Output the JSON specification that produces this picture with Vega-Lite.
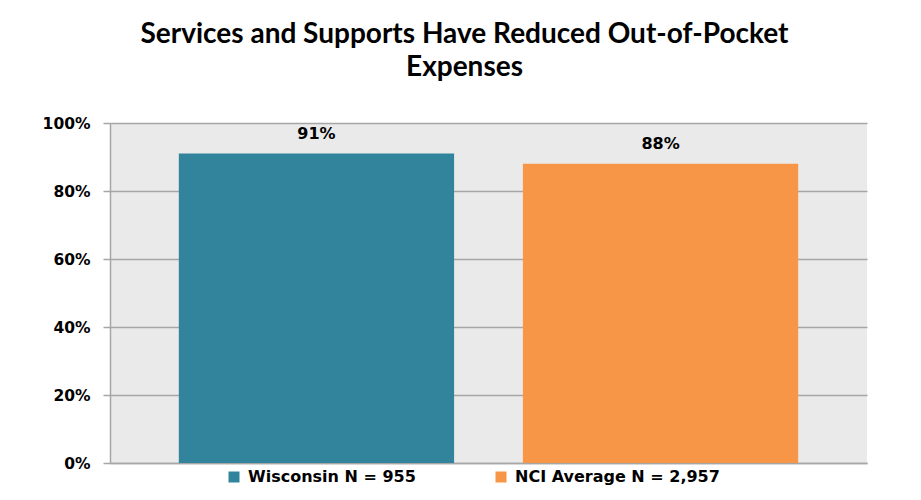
{
  "$schema": "https://vega.github.io/schema/vega-lite/v6.json",
  "width": 757,
  "height": 340,
  "autosize": {"type": "none"},
  "padding": {"left": 110, "top": 123, "right": 54, "bottom": 37},
  "background": "white",
  "title": {
    "text": ["Services and Supports Have Reduced Out-of-Pocket", "Expenses"],
    "font": "Lato",
    "fontSize": 28,
    "fontWeight": "bold",
    "color": "#000000",
    "anchor": "middle",
    "frame": "group",
    "dx": -24,
    "offset": 34,
    "lineHeight": 33
  },
  "data": {
    "values": [
      {"group": "Wisconsin N = 955", "pct": 0.91, "label": "91%"},
      {"group": "NCI Average N = 2,957", "pct": 0.88, "label": "88%"}
    ]
  },
  "encoding": {
    "x": {
      "field": "group",
      "type": "nominal",
      "sort": null,
      "scale": {"paddingInner": 0.2, "paddingOuter": 0.2},
      "axis": {"labels": false, "ticks": false, "title": null, "domain": true, "domainColor": "#A6A6A6", "domainWidth": 1.5}
    },
    "y": {
      "field": "pct",
      "type": "quantitative",
      "scale": {"domain": [0, 1], "nice": false},
      "axis": {
        "title": null,
        "values": [0, 0.2, 0.4, 0.6, 0.8, 1],
        "format": ".0%",
        "grid": true,
        "gridColor": "#A6A6A6",
        "gridWidth": 1.5,
        "domainColor": "#A6A6A6",
        "domainWidth": 1.5,
        "tickColor": "#A6A6A6",
        "tickWidth": 1.5,
        "tickSize": 7,
        "labelPadding": 13,
        "labelFont": "DejaVu Sans",
        "labelFontSize": 15.5,
        "labelFontWeight": "bold",
        "labelColor": "#000000"
      }
    }
  },
  "layer": [
    {
      "mark": {"type": "bar"},
      "encoding": {
        "color": {
          "field": "group",
          "type": "nominal",
          "sort": null,
          "scale": {"range": ["#31849B", "#F79646"]},
          "legend": {
            "title": null,
            "orient": "none",
            "legendX": 116,
            "legendY": 346,
            "direction": "horizontal",
            "symbolType": "square",
            "symbolSize": 121,
            "symbolStrokeWidth": 0,
            "labelFont": "DejaVu Sans",
            "labelFontSize": 16,
            "labelFontWeight": "bold",
            "labelColor": "#000000",
            "labelOffset": 6,
            "labelLimit": 400,
            "columnPadding": 77,
            "gridAlign": "each",
            "padding": 0
          }
        }
      }
    },
    {
      "mark": {"type": "text", "baseline": "bottom", "dy": -12, "font": "DejaVu Sans", "fontSize": 16, "fontWeight": "bold", "color": "#000000"},
      "encoding": {"text": {"field": "label"}}
    }
  ],
  "config": {
    "view": {"fill": "#EAEAEA", "stroke": null}
  }
}
